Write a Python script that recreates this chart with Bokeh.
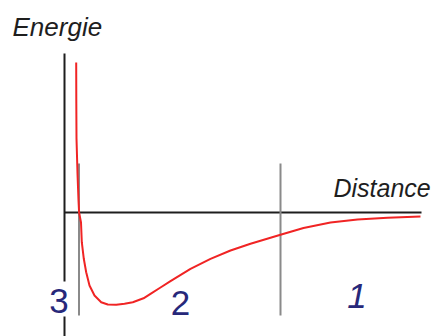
from bokeh.plotting import figure
from bokeh.models import Range1d, Label
from bokeh.embed import file_html
from bokeh.resources import INLINE

# Potential energy curve (arbitrary units)
distance = [11.7, 11.8, 12, 13, 14, 14.6, 16.5, 17.3, 19.3, 21.7, 25, 30, 36.7, 43.3,
            51.7, 60, 68.3, 79, 86, 96, 106, 126, 146, 166, 186, 206, 216, 239, 266,
            293, 323, 356]
energy = [150, 112, 74, 39, 12, 0, -10, -29.7, -46.3, -59.7, -73, -83, -89.7, -92,
          -92.3, -91.3, -89.7, -85.8, -81.3, -75, -68.6, -56.3, -46.3, -38, -31.3,
          -25.3, -22.3, -15.5, -10, -7, -5.3, -4]

# Region boundaries (distance) and region labels
boundaries = [14.5, 216]
region_labels = ["3", "2", "1"]
region_x = [-5.5, 116, 292.5]
region_y = [-88, -90, -83]
region_italic = ["normal", "normal", "italic"]

x_title = "Distance"
y_title = "Energie"

p = figure(width=439, height=336, output_backend="svg", toolbar_location=None,
           x_range=Range1d(-64, 375), y_range=Range1d(-124, 212),
           x_axis_location=None, y_axis_location=None, min_border=0)
p.grid.visible = False
p.outline_line_color = None
p.background_fill_color = "white"
p.border_fill_color = "white"

axis_color = "#1e1e1e"
# vertical energy axis (interrupted around label "3")
p.segment(x0=[0, 0], y0=[159, -104], x1=[0, 0], y1=[-69, -124],
          line_color=axis_color, line_width=2)
# horizontal distance axis
p.segment(x0=[0], y0=[0], x1=[max(distance) + 1], y1=[0],
          line_color=axis_color, line_width=2)

# region boundaries
p.segment(x0=boundaries, y0=[49] * len(boundaries), x1=boundaries,
          y1=[-103] * len(boundaries), line_color="#8a8a8a", line_width=2)

# curve
p.line(distance, energy, line_color="#f02424", line_width=2, line_join="round")

for lab, xx, yy, st in zip(region_labels, region_x, region_y, region_italic):
    p.add_layout(Label(x=xx, y=yy, text=lab, text_font="Liberation Sans",
                       text_font_size="35px", text_font_style=st,
                       text_color="#27287a", text_align="center",
                       text_baseline="alphabetic"))

p.add_layout(Label(x=-52, y=186, text=y_title, text_font="Liberation Sans",
                   text_font_size="26px", text_font_style="italic",
                   text_color="#1e1e1e", text_baseline="alphabetic"))
p.add_layout(Label(x=269, y=25, text=x_title, text_font="Liberation Sans",
                   text_font_size="25px", text_font_style="italic",
                   text_color="#1e1e1e", text_baseline="alphabetic"))

open("out.html", "w").write(file_html(p, INLINE))
